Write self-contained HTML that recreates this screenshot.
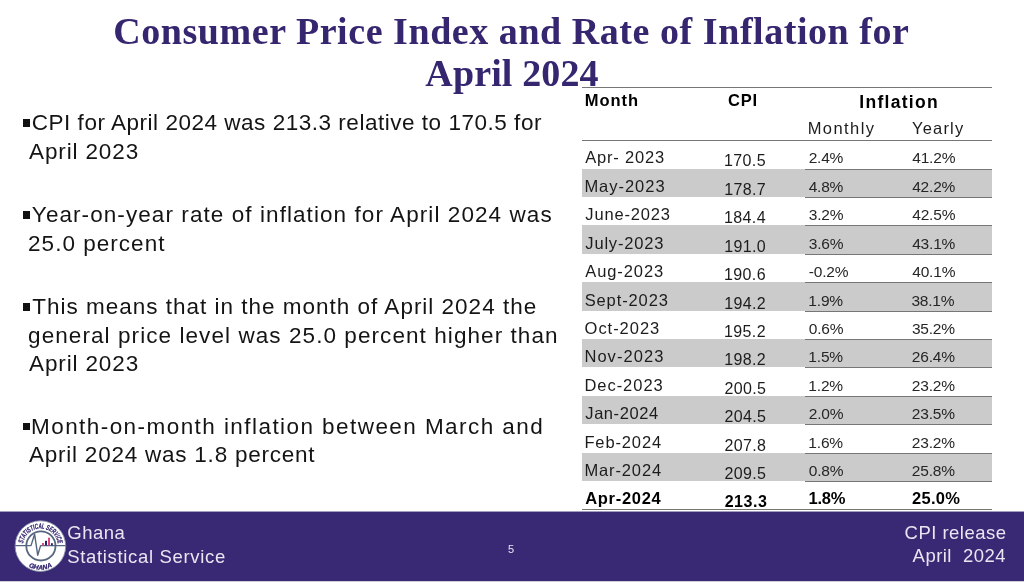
<!DOCTYPE html>
<html lang="en">
<head>
<meta charset="utf-8">
<title>Consumer Price Index and Rate of Inflation for April 2024</title>
<style>
html,body{margin:0;padding:0;background:#fff}
body{width:1024px;height:582px;overflow:hidden;position:relative;font-family:"Liberation Sans",sans-serif;color:#141414}
.t{position:absolute;white-space:pre;line-height:1;margin:0;padding:0;display:block}
.r{position:relative;white-space:pre;line-height:1;display:inline-block}
h1{margin:0;padding:0;font-family:"Liberation Serif",serif;font-weight:bold;font-size:38px;color:#36266f}
h1 .t{font-size:38px}
ul{margin:0;padding:0;list-style:none;font-size:22.5px}
li{margin:0;padding:0}
li i.sq{position:absolute;width:7px;height:7.5px;background:#111;left:23px}
table{position:absolute;left:582px;top:87px;width:410px;border-collapse:separate;border-spacing:0;table-layout:fixed;font-size:16px;color:#1c1c1c}
td,th{padding:0;margin:0;text-align:left;font-weight:normal;vertical-align:top;overflow:visible;white-space:nowrap;line-height:1}
thead tr.h1 th{border-top:1px solid #767676}
tbody tr.first td{border-top:1px solid #767676}
tbody td.g{border-top:1px solid #767676}
tbody tr.last td{border-bottom:1px solid #767676}
tbody tr.sh td{background:#cbcbcb}
.b{font-weight:bold;color:#000}
.inf{font-size:17.5px}
.mo{font-size:16.5px}
.hd{font-size:16.5px}
.sub{font-size:16.5px}
.pc{font-size:15.5px;color:#262626}
.pc.b{font-size:16.5px;color:#000}
footer{position:absolute;left:0;top:512px;width:1024px;height:69px;background:#392873;color:#e9e6f2}
footer .t{font-size:18.5px}
.edge1{position:absolute;left:0;top:511px;width:1024px;height:1px;background:#a39cbf}
.edge2{position:absolute;left:0;top:581px;width:1024px;height:1px;background:#cfccdb}
footer .pg{font-size:11px}
svg{position:absolute;overflow:visible}
</style>
</head>
<body>
<h1><span class="t" style="left:113.27px;top:12.21px;letter-spacing:0.552px">Consumer Price Index and Rate of Inflation for</span><span class="t" style="left:425.32px;top:53.50px;letter-spacing:0.131px">April 2024</span></h1>
<ul>
<li><i class="sq" style="top:119.3px"></i><span class="t" style="left:31.78px;top:112.11px;letter-spacing:0.523px">CPI for April 2024 was 213.3 relative to 170.5 for</span><span class="t" style="left:29.00px;top:140.71px;letter-spacing:0.871px">April 2023</span></li>
<li><i class="sq" style="top:211.1px"></i><span class="t" style="left:31.86px;top:203.91px;letter-spacing:1.075px">Year-on-year rate of inflation for April 2024 was</span><span class="t" style="left:28.08px;top:232.50px;letter-spacing:1.024px">25.0 percent</span></li>
<li><i class="sq" style="top:303.4px"></i><span class="t" style="left:32.36px;top:296.21px;letter-spacing:0.995px">This means that in the month of April 2024 the</span><span class="t" style="left:28.12px;top:324.71px;letter-spacing:1.072px">general price level was 25.0 percent higher than</span><span class="t" style="left:29.00px;top:353.21px;letter-spacing:0.871px">April 2023</span></li>
<li><i class="sq" style="top:422.8px"></i><span class="t" style="left:31.00px;top:415.61px;letter-spacing:1.439px">Month-on-month inflation between March and</span><span class="t" style="left:29.00px;top:444.11px;letter-spacing:0.767px">April 2024 was 1.8 percent</span></li>
</ul>
<table>
<colgroup><col style="width:138px"><col style="width:85px"><col style="width:103px"><col style="width:84px"></colgroup>
<thead>
<tr class="h1" style="height:27px"><th rowspan="2"><span class="r b hd" style="left:2.70px;top:4.30px;letter-spacing:0.993px">Month</span></th><th rowspan="2"><span class="r b hd" style="left:8.00px;top:4.30px;letter-spacing:0.763px">CPI</span></th><th colspan="2"><span class="r b inf" style="left:54.30px;top:6.00px;letter-spacing:1.284px">Inflation</span></th></tr>
<tr class="h2" style="height:26px"><th><span class="r sub" style="left:2.69px;top:6.21px;letter-spacing:1.429px">Monthly</span></th><th><span class="r sub" style="left:4.00px;top:6.21px;letter-spacing:1.196px">Yearly</span></th></tr>
</thead>
<tbody>
<tr class="first" style="height:29px"><td><span class="r mo" style="left:3.26px;top:8.40px;letter-spacing:0.807px">Apr- 2023</span></td><td><span class="r n" style="left:4.06px;top:12.40px;letter-spacing:0.360px">170.5</span></td><td class="g"><span class="r pc" style="left:3.65px;top:9.40px;letter-spacing:-0.197px">2.4%</span></td><td class="g"><span class="r pc" style="left:4.27px;top:9.40px;letter-spacing:-0.201px">41.2%</span></td></tr>
<tr class="sh" style="height:28px"><td><span class="r mo" style="left:2.42px;top:8.82px;letter-spacing:0.968px">May-2023</span></td><td><span class="r n" style="left:4.13px;top:12.82px;letter-spacing:0.360px">178.7</span></td><td class="g"><span class="r pc" style="left:3.67px;top:8.82px;letter-spacing:-0.197px">4.8%</span></td><td class="g"><span class="r pc" style="left:4.19px;top:8.82px;letter-spacing:-0.201px">42.2%</span></td></tr>
<tr style="height:28px"><td><span class="r mo" style="left:3.36px;top:9.24px;letter-spacing:0.819px">June-2023</span></td><td><span class="r n" style="left:4.06px;top:13.24px;letter-spacing:0.360px">184.4</span></td><td class="g"><span class="r pc" style="left:3.72px;top:9.24px;letter-spacing:-0.197px">3.2%</span></td><td class="g"><span class="r pc" style="left:4.27px;top:9.24px;letter-spacing:-0.201px">42.5%</span></td></tr>
<tr class="sh" style="height:29px"><td><span class="r mo" style="left:3.34px;top:9.66px;letter-spacing:0.814px">July-2023</span></td><td><span class="r n" style="left:4.13px;top:13.66px;letter-spacing:0.360px">191.0</span></td><td class="g"><span class="r pc" style="left:3.78px;top:9.66px;letter-spacing:-0.197px">3.6%</span></td><td class="g"><span class="r pc" style="left:4.19px;top:9.66px;letter-spacing:-0.201px">43.1%</span></td></tr>
<tr style="height:28px"><td><span class="r mo" style="left:3.26px;top:9.08px;letter-spacing:0.916px">Aug-2023</span></td><td><span class="r n" style="left:4.06px;top:13.08px;letter-spacing:0.360px">190.6</span></td><td class="g"><span class="r pc" style="left:3.80px;top:9.08px;letter-spacing:-0.197px">-0.2%</span></td><td class="g"><span class="r pc" style="left:4.27px;top:9.08px;letter-spacing:-0.201px">40.1%</span></td></tr>
<tr class="sh" style="height:29px"><td><span class="r mo" style="left:2.64px;top:9.50px;letter-spacing:0.894px">Sept-2023</span></td><td><span class="r n" style="left:4.13px;top:13.50px;letter-spacing:0.360px">194.2</span></td><td class="g"><span class="r pc" style="left:3.35px;top:9.50px;letter-spacing:-0.197px">1.9%</span></td><td class="g"><span class="r pc" style="left:3.42px;top:9.50px;letter-spacing:-0.201px">38.1%</span></td></tr>
<tr style="height:28px"><td><span class="r mo" style="left:2.61px;top:8.93px;letter-spacing:0.959px">Oct-2023</span></td><td><span class="r n" style="left:4.06px;top:12.93px;letter-spacing:0.360px">195.2</span></td><td class="g"><span class="r pc" style="left:3.84px;top:8.93px;letter-spacing:-0.197px">0.6%</span></td><td class="g"><span class="r pc" style="left:3.88px;top:8.93px;letter-spacing:-0.201px">35.2%</span></td></tr>
<tr class="sh" style="height:28px"><td><span class="r mo" style="left:2.42px;top:9.35px;letter-spacing:1.057px">Nov-2023</span></td><td><span class="r n" style="left:4.13px;top:13.35px;letter-spacing:0.360px">198.2</span></td><td class="g"><span class="r pc" style="left:3.35px;top:9.35px;letter-spacing:-0.197px">1.5%</span></td><td class="g"><span class="r pc" style="left:3.83px;top:9.35px;letter-spacing:-0.201px">26.4%</span></td></tr>
<tr style="height:29px"><td><span class="r mo" style="left:2.42px;top:9.76px;letter-spacing:0.969px">Dec-2023</span></td><td><span class="r n" style="left:4.50px;top:13.76px;letter-spacing:0.360px">200.5</span></td><td class="g"><span class="r pc" style="left:3.36px;top:9.76px;letter-spacing:-0.197px">1.2%</span></td><td class="g"><span class="r pc" style="left:3.80px;top:9.76px;letter-spacing:-0.201px">23.2%</span></td></tr>
<tr class="sh" style="height:28px"><td><span class="r mo" style="left:3.34px;top:9.18px;letter-spacing:0.560px">Jan-2024</span></td><td><span class="r n" style="left:4.50px;top:13.18px;letter-spacing:0.360px">204.5</span></td><td class="g"><span class="r pc" style="left:3.75px;top:9.18px;letter-spacing:-0.197px">2.0%</span></td><td class="g"><span class="r pc" style="left:3.83px;top:9.18px;letter-spacing:-0.201px">23.5%</span></td></tr>
<tr style="height:29px"><td><span class="r mo" style="left:2.42px;top:9.60px;letter-spacing:0.871px">Feb-2024</span></td><td><span class="r n" style="left:4.50px;top:13.60px;letter-spacing:0.360px">207.8</span></td><td class="g"><span class="r pc" style="left:3.36px;top:9.60px;letter-spacing:-0.197px">1.6%</span></td><td class="g"><span class="r pc" style="left:3.80px;top:9.60px;letter-spacing:-0.201px">23.2%</span></td></tr>
<tr class="sh" style="height:28px"><td><span class="r mo" style="left:2.42px;top:9.02px;letter-spacing:0.869px">Mar-2024</span></td><td><span class="r n" style="left:4.50px;top:13.02px;letter-spacing:0.360px">209.5</span></td><td class="g"><span class="r pc" style="left:3.84px;top:9.02px;letter-spacing:-0.197px">0.8%</span></td><td class="g"><span class="r pc" style="left:3.83px;top:9.02px;letter-spacing:-0.201px">25.8%</span></td></tr>
<tr class="last" style="height:29px"><td><span class="r mo b" style="left:3.14px;top:9.44px;letter-spacing:0.717px">Apr-2024</span></td><td><span class="r n b" style="left:4.64px;top:13.44px;letter-spacing:0.562px">213.3</span></td><td class="g"><span class="r pc b" style="left:3.49px;top:8.44px;letter-spacing:-0.261px">1.8%</span></td><td class="g"><span class="r pc b" style="left:3.98px;top:8.44px;letter-spacing:0.278px">25.0%</span></td></tr>
</tbody>
</table>
<div class="edge1"></div>
<footer>
<svg width="80" height="69" viewBox="0 0 80 69" style="left:0;top:0" role="img" aria-label="Ghana Statistical Service logo">
<defs><path id="arcT" d="M23.02,31.35 A17.6,17.6 0 0 1 57.78,31.35"/><path id="arcB" d="M28.60,54.54 A23.6,23.6 0 0 0 52.20,54.54"/></defs>
<circle cx="40.4" cy="34.1" r="25.3" fill="#fff" stroke="#8a93ab" stroke-width="0.9"/>
<circle cx="40.9" cy="33.9" r="14.6" fill="none" stroke="#56667f" stroke-width="1.8"/>
<path d="M15.2,33.6 H31 L34.6,22.2 L37.7,43.2 L40.6,33.6 H65.6" fill="none" stroke="#56667f" stroke-width="1.4" stroke-linejoin="round"/>
<rect x="42" y="31" width="2" height="2.4" fill="#e2447f"/><rect x="45" y="28.8" width="2" height="4.6" fill="#2c1e6b"/><rect x="48" y="25.7" width="2" height="7.7" fill="#e2447f"/><rect x="51" y="31.2" width="1.8" height="2.2" fill="#2c1e6b"/>
<text font-family="Liberation Sans, sans-serif" font-weight="bold" font-style="italic" font-size="7.4" fill="#2c1e6b" stroke="#2c1e6b" stroke-width="0.25"><textPath href="#arcT" textLength="49.8" lengthAdjust="spacingAndGlyphs">STATISTICAL SERVICE</textPath></text>
<text font-family="Liberation Sans, sans-serif" font-weight="bold" font-style="italic" font-size="6.6" fill="#2c1e6b" stroke="#2c1e6b" stroke-width="0.25"><textPath href="#arcB" textLength="24.7" lengthAdjust="spacingAndGlyphs">GHANA</textPath></text>
</svg>
<span class="t" style="left:67.37px;top:12.11px;letter-spacing:0.468px">Ghana</span><span class="t" style="left:67.15px;top:35.50px;letter-spacing:0.670px">Statistical Service</span><span class="t pg" style="left:508.03px;top:32.00px;letter-spacing:0.000px">5</span><span class="t" style="left:904.57px;top:12.21px;letter-spacing:0.476px">CPI release</span><span class="t" style="left:912.61px;top:35.11px;letter-spacing:0.455px">April  2024</span>
</footer>
<div class="edge2"></div>
</body>
</html>
